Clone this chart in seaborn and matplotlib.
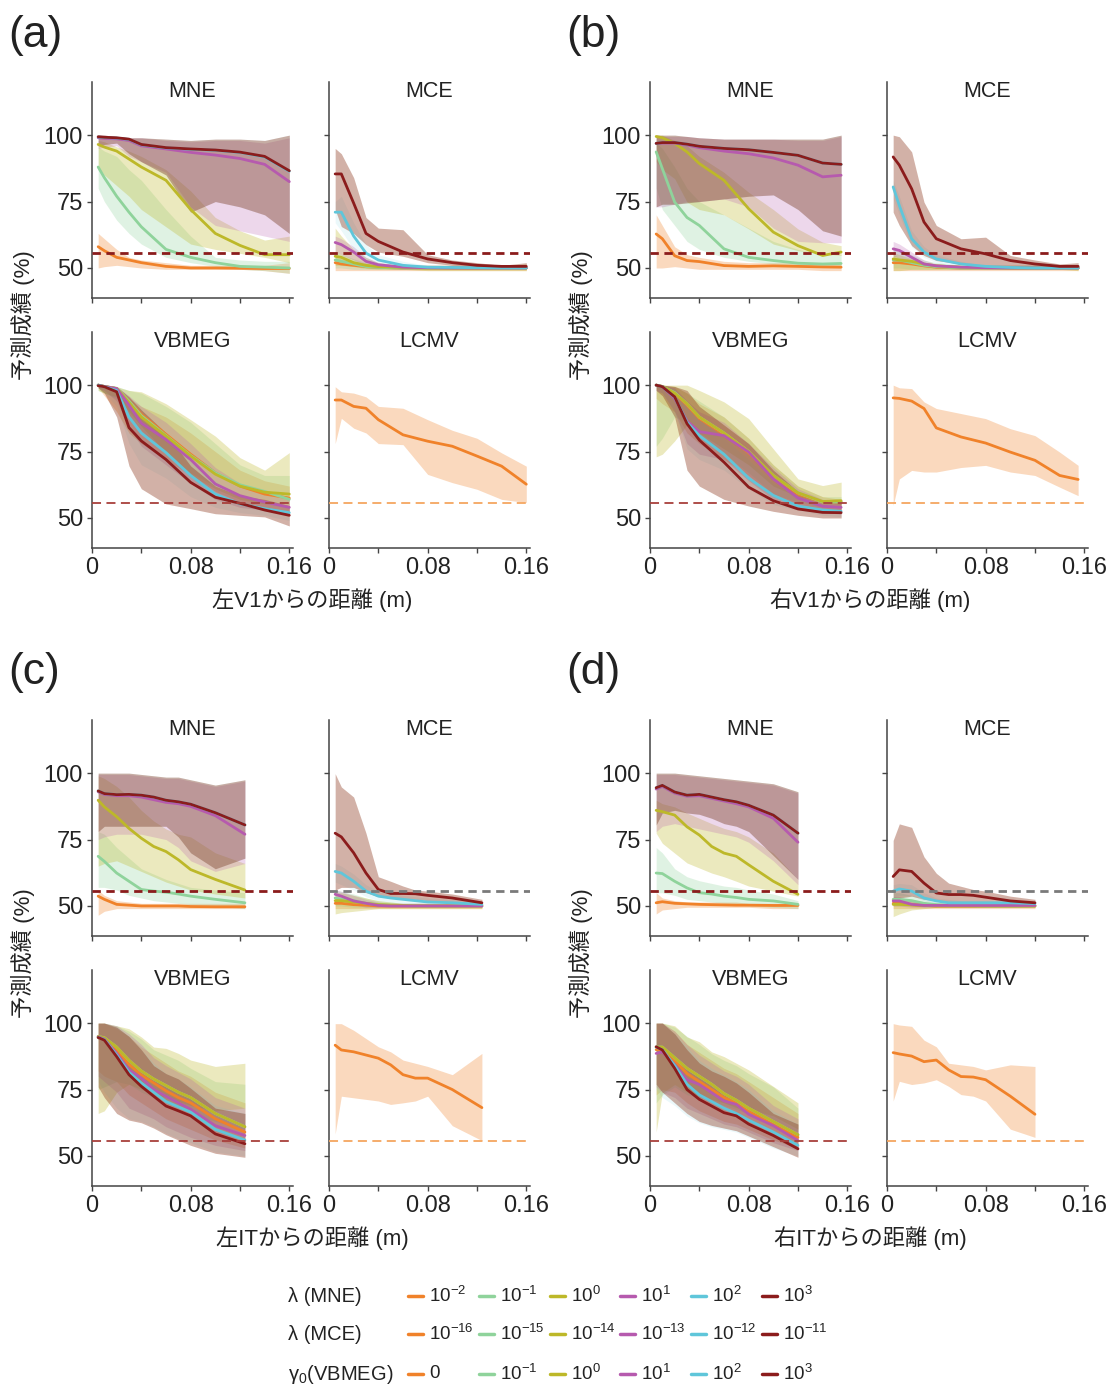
import numpy as np
import pandas as pd
import matplotlib
matplotlib.use("Agg")
import matplotlib.pyplot as plt
import seaborn as sns
from matplotlib.lines import Line2D

sns.set_theme(style="ticks")
plt.rcParams["font.family"] = ["Liberation Sans", "Noto Sans CJK JP"]
plt.rcParams["mathtext.fontset"] = "custom"
plt.rcParams["mathtext.rm"] = "Liberation Sans"
plt.rcParams["mathtext.it"] = "Liberation Sans:italic"
plt.rcParams["mathtext.bf"] = "Liberation Sans:bold"

# ---------------- data ----------------
# series order: 10^-2/-16/0 (orange), green, olive, purple, cyan, darkred
COLORS = ["#F0822A", "#8FD39B", "#BDB829", "#B65AAE", "#5FC6DA", "#8B1C1C"]
FILL_COLORS = ["#F0822A", "#8FD39B", "#BDB829", "#B65AAE", "#5FC6DA", "#8B3418"]
FILL_ALPHAS = [0.30, 0.28, 0.30, 0.24, 0.12, 0.38]
LCMV_COLOR = "#F0822A"
CHANCE = 55.5

XA = [0.005, 0.01, 0.02, 0.03, 0.04, 0.06, 0.08, 0.10, 0.12, 0.14, 0.16]
XB = [0.005, 0.01, 0.02, 0.03, 0.04, 0.06, 0.08, 0.10, 0.12, 0.14, 0.155]
XC = [0.005, 0.01, 0.02, 0.03, 0.04, 0.05, 0.06, 0.07, 0.08, 0.10, 0.124]
XD = [0.005, 0.01, 0.02, 0.03, 0.04, 0.05, 0.06, 0.07, 0.08, 0.10, 0.12]

# ---- panel (a): left V1 ----
A_MNE_MEAN = [
    [58, 56.5, 54, 53, 52, 50.6, 50, 50, 49.9, 49.8, 49.8],
    [88, 84, 77, 71, 65.5, 57, 54, 52, 50.6, 50.3, 50],
    [96.5, 95.5, 94, 91, 88, 83, 72, 63, 58.5, 55, 55],
    [99, 98.8, 98.6, 98, 96, 94.8, 93.5, 92.5, 91.2, 89, 82.5],
    [99.3, 99.1, 98.9, 98.4, 96.4, 95.2, 94.7, 94.3, 93.5, 91.8, 86.4],
    [99.4, 99.2, 99, 98.5, 96.5, 95.3, 94.8, 94.4, 93.6, 92, 86.6]]
A_MNE_LO = [
    [50, 50.5, 51, 50.5, 50, 49.5, 49.5, 49.5, 49.5, 49, 48],
    [80, 75, 68, 63, 59, 54, 52, 50.6, 49.5, 49, 48],
    [88, 85, 81, 77, 72, 65.5, 59, 57, 55.5, 54, 52],
    [95, 95.5, 96, 92, 90, 86, 73, 66, 64, 62, 60],
    [96, 96.5, 97, 93, 90, 85, 71, 75, 73, 70, 63],
    [96, 96.5, 97, 93, 90, 85, 71, 75, 73, 70, 63]]
A_MNE_HI = [
    [63, 61, 57, 54, 53, 52, 51, 51, 51, 51, 52],
    [95.6, 94, 92, 87, 83, 72, 62, 54, 53, 52.5, 52.5],
    [98, 97.5, 95.6, 94, 92, 87, 79, 69, 64, 60.5, 62],
    [100, 100, 99.5, 99, 99, 98, 97.5, 98, 98, 97, 99],
    [100, 100, 99.5, 99, 99, 98.5, 98, 98.5, 98.5, 98, 100],
    [100, 100, 99.5, 99, 99, 98.5, 98, 98.5, 98.5, 98, 100]]

A_MCE_MEAN = [
    [52, 51.5, 51, 50.5, 50.2, 50, 50, 50, 50, 50, 50],
    [53, 52.5, 51.5, 50.5, 50.2, 50, 50, 50, 50, 50, 50],
    [54.4, 54, 52, 51, 50.5, 50.2, 50, 50, 50, 50, 50],
    [59.6, 58.8, 56, 52.5, 51.2, 50.3, 50.1, 50, 50, 50, 50],
    [71, 71, 62, 55.6, 53, 51, 50.3, 50.2, 50.1, 50, 50],
    [85.4, 85.4, 74.4, 63, 60, 56, 53.4, 52, 51, 50.6, 50.6]]
A_MCE_LO = [
    [49, 49, 49, 49, 49, 49, 49, 49, 49, 49, 49],
    [50, 50, 49.5, 49.5, 49.5, 49.5, 49.5, 49.5, 49.5, 49.5, 49.5],
    [51, 51, 50.5, 49.8, 49.5, 49.5, 49, 49, 49, 49, 49],
    [56, 55, 53, 51, 50, 49.5, 49.5, 49.5, 49.5, 49.5, 49.5],
    [67, 64, 57, 53, 52, 50.2, 49.8, 49.8, 49.8, 49.8, 49.8],
    [72, 65.6, 63, 58.8, 56, 54.4, 52, 51, 50.6, 50, 50]]
A_MCE_HI = [
    [54, 53.5, 52.5, 51.5, 51, 51, 51, 51, 51, 51, 51],
    [56, 55, 53.5, 52, 51.2, 51, 51, 51, 51, 51, 51],
    [65, 62, 57, 54, 52, 51, 51, 51, 51, 51, 51.5],
    [62, 61, 58, 54, 52, 51, 51, 51, 51, 51, 51],
    [75, 77, 67, 58.8, 55, 52.5, 51, 51, 51, 51, 51],
    [95, 93, 84, 69, 65, 64.4, 55, 53, 52, 51, 52]]

A_VB_MEAN = [
    [100, 99.5, 98.7, 94, 89, 81.5, 74, 67, 62, 59, 57.5],
    [100, 99.5, 98.8, 94, 88.5, 81, 73.5, 67, 62.5, 60, 57],
    [100, 99.5, 98.7, 93.5, 88, 80.8, 73.3, 66.5, 62, 59.7, 59],
    [100, 99.5, 98.7, 92.5, 85.7, 79.5, 72, 62.8, 58.4, 56, 54],
    [100, 99.4, 98, 88, 82, 74.6, 66, 59, 55.3, 53.5, 52],
    [99.8, 99.4, 97.5, 84, 79, 72, 63.4, 57.8, 55.5, 53, 51]]
A_VB_LO = [
    [99, 96, 90, 82, 78, 72, 66, 60, 56, 54, 52],
    [98, 97, 95, 88, 83, 74, 67, 62, 58, 56, 55],
    [98, 97, 95.6, 90, 84.5, 74.6, 66, 61, 57, 55.3, 54.7],
    [99, 98, 94, 84, 77, 70, 63, 57, 54, 53, 51],
    [99, 97, 92, 78, 70, 65, 58, 54, 52, 51, 49],
    [99, 97, 88, 69.6, 61, 55.3, 53.5, 51.6, 51, 50.4, 47]]
A_VB_HI = [
    [100, 100, 99, 95, 92, 88, 82, 75, 68, 64, 62],
    [100, 100, 99.5, 98, 97, 92, 86, 78, 70, 66, 66],
    [100, 100, 99.4, 98, 97.5, 93, 87, 80.8, 72.7, 68, 74.6],
    [100, 100, 99.5, 96, 92, 86, 78, 69, 63, 60, 58],
    [100, 100, 99, 94, 88, 80, 72, 64, 58, 56, 54],
    [100, 100, 99.4, 95.6, 90.7, 82, 69.6, 62, 58.4, 57, 54.7]]

A_LC_MEAN = [94.4, 94.4, 92, 91.3, 87, 81.3, 78.9, 77, 73.3, 69.5, 62.7]
A_LC_LO = [78, 87.5, 83.8, 82, 78, 77.6, 66.4, 63.3, 60.8, 57, 55.8]
A_LC_HI = [99.4, 97.5, 97, 95.6, 92, 91.3, 87, 83, 80, 74.5, 69.5]

# ---- panel (b): right V1 ----
B_MNE_MEAN = [
    [62.8, 61, 54.6, 52.8, 52.4, 50.9, 50.6, 50.8, 50.6, 50.4, 50.3],
    [93.7, 87.4, 74.8, 69, 66, 57.2, 54, 52.8, 51.8, 51.5, 51.7],
    [99.5, 99, 96.9, 93.7, 89.3, 83, 72.3, 63.5, 58.4, 54.7, 56],
    [96.9, 97, 97, 96.3, 95.3, 94, 93, 91.4, 88.7, 84.3, 84.9],
    [96.9, 97.2, 97.2, 96.6, 95.8, 95, 94.5, 93.5, 92.4, 89.5, 89],
    [96.9, 97.2, 97.2, 96.6, 95.8, 95, 94.5, 93.5, 92.4, 89.5, 89]]
B_MNE_LO = [
    [50, 50, 50.5, 50, 49.5, 49.5, 49.5, 49.5, 49.5, 49, 49],
    [80, 72, 66, 60, 57, 54, 52.5, 51.5, 51, 50.5, 50.5],
    [90, 87, 83.6, 74.8, 72, 70, 64.7, 59, 56.5, 55.3, 54.7],
    [73, 73, 74, 75, 75, 76, 73, 65, 60, 59.5, 59.5],
    [73, 74, 74, 74.5, 75, 76, 77, 77.5, 72, 64, 62],
    [73, 74, 74, 74.5, 75, 76, 77, 77.5, 72, 64, 62]]
B_MNE_HI = [
    [70, 66, 58, 55, 54, 52.5, 52, 52, 52, 52, 52],
    [97, 95, 88, 80, 75, 70, 65, 60, 57, 55, 55],
    [100, 100, 98, 96, 92, 86, 78.5, 72, 64.7, 59.7, 58.4],
    [99.5, 99.5, 99.5, 99.5, 99, 98.5, 98.5, 98.5, 98, 98, 99.5],
    [100, 100, 100, 99.5, 99, 98.5, 98.5, 98.5, 98.5, 98.5, 100],
    [100, 100, 100, 99.5, 99, 98.5, 98.5, 98.5, 98.5, 98.5, 100]]

B_MCE_MEAN = [
    [52, 52, 51.5, 50.8, 50.3, 50, 50, 50, 50, 50, 50],
    [53, 53, 52, 51, 50.5, 50, 50, 50, 50, 50, 50],
    [53.4, 53, 52.5, 51.5, 50.8, 50.3, 50.2, 50, 50, 50, 50],
    [57.2, 56.6, 54, 51.5, 50.8, 50.3, 50.1, 50, 50, 50, 50],
    [80.5, 73.5, 61, 56, 53.4, 51.5, 50.6, 50.2, 50, 50, 50],
    [91.8, 88.7, 79.8, 67.3, 61, 57.2, 55.3, 52.8, 51.5, 50.6, 50.6]]
B_MCE_LO = [
    [49, 49, 49, 49, 49, 49, 49, 49, 49, 49, 49],
    [50, 50, 49.5, 49.5, 49.5, 49.5, 49.5, 49.5, 49.5, 49.5, 49.5],
    [49, 49, 49.5, 49.5, 49.5, 49.5, 49.5, 49.5, 49.5, 49.5, 49],
    [54.5, 54, 52, 50.5, 50, 49.5, 49.5, 49.5, 49.5, 49.5, 49.5],
    [76, 70, 58, 54, 52, 50.5, 49.5, 49.5, 49.5, 49.5, 49.5],
    [71, 66, 58.4, 54.7, 52.8, 51.5, 51, 50.6, 50, 50, 50]]
B_MCE_HI = [
    [55, 54, 53, 52, 51.5, 51, 51, 51, 51, 51, 51],
    [58, 57, 55, 53, 52, 51, 51, 51, 51, 51, 51],
    [56, 55, 53.5, 52, 51, 51, 51, 51, 51, 51, 51],
    [60, 59, 56, 53, 51.5, 51, 51, 51, 51, 51, 51],
    [83, 77, 64, 58, 55, 52.5, 51, 51, 51, 51, 51],
    [100, 99.4, 93.7, 74.8, 66, 61, 61.6, 54.7, 53, 51.5, 52]]

B_VB_MEAN = [
    [100, 99.5, 97, 92.5, 87.5, 81.5, 74.5, 65.5, 59, 56, 56],
    [100, 99.5, 97.2, 93, 88, 82, 75, 66, 59.5, 56, 56],
    [100, 99.5, 97, 93, 88, 82, 75, 66, 59.5, 56.2, 56.5],
    [100, 99.4, 95, 86.5, 82.5, 81, 74.8, 64.7, 57.5, 54.4, 54],
    [100, 99.4, 95.5, 86, 81, 74, 65, 58.5, 54.5, 53, 52.5],
    [100, 99.4, 95.6, 85.5, 79.3, 71, 61.6, 56.5, 53.4, 52.1, 52]]
B_VB_LO = [
    [95, 93, 90, 82, 78, 72, 66, 58, 55, 53, 52],
    [77, 80, 88, 86, 80, 74, 67, 59, 56, 54, 54],
    [73, 74, 79, 85, 82, 76, 70, 62, 58, 56, 55],
    [98, 97, 90, 78, 74, 72, 64, 57, 54, 52, 51.5],
    [98, 97, 90, 76, 72, 68, 61, 55, 53, 51, 50.5],
    [98, 96, 88, 68, 62, 57, 54.5, 52.5, 51, 50, 50]]
B_VB_HI = [
    [100, 100, 99.5, 97, 93, 88, 80, 70, 62, 58, 57],
    [100, 100, 99.5, 97, 94, 88, 80, 70, 62, 58, 58],
    [100, 100, 100, 100, 98, 93.7, 87.4, 76, 64.7, 62.2, 63.5],
    [100, 100, 99, 94, 90, 86, 78, 69, 61, 57, 56.5],
    [100, 100, 99, 92, 87, 80, 72, 63, 58, 55, 54],
    [100, 100, 99.5, 98, 92, 85, 78, 68, 60, 56.5, 56]]

B_LC_MEAN = [95.2, 95, 94, 91.2, 83.9, 80.5, 78.2, 74.8, 71.7, 66, 64.5]
B_LC_LO = [54.7, 64.7, 67.9, 67.3, 67.3, 69, 69.8, 67.3, 66, 61.6, 58.4]
B_LC_HI = [100, 99, 98.7, 93.7, 91.2, 89.3, 87.4, 83.6, 81, 74.8, 69.8]

# ---- panel (c): left IT ----
C_MNE_MEAN = [
    [53.7, 52.5, 50.6, 50.3, 50, 50, 50, 50, 49.8, 49.7, 49.7],
    [68.7, 66.8, 62.4, 59.3, 56.2, 55.6, 55.2, 54.5, 53.7, 52.5, 51.2],
    [89.8, 87.3, 83.6, 79.2, 75.5, 72.4, 70.5, 67.4, 63.7, 60, 56],
    [93, 92, 91.5, 91.5, 91, 90, 89, 88.5, 87.5, 84, 77],
    [93.3, 92.3, 91.9, 92, 91.7, 91, 89.8, 89.2, 88.3, 85.1, 80.5],
    [93.3, 92.3, 91.9, 92, 91.7, 91, 89.8, 89.2, 88.3, 85.1, 80.5]]
C_MNE_LO = [
    [46.5, 48, 49, 49, 49, 49, 49, 49, 49, 49, 49],
    [57, 57, 56, 54, 53, 52, 51.5, 51, 50.5, 50, 49],
    [65, 66, 67, 65, 63, 61, 59, 57.5, 56, 54.5, 53],
    [75, 76, 77, 77, 77, 76, 75, 72, 67, 63, 66],
    [78, 80, 80, 80, 80, 80, 80, 76, 70, 64, 68],
    [78, 80, 80, 80, 80, 80, 80, 76, 70, 64, 68]]
C_MNE_HI = [
    [56, 54, 52, 51.5, 51, 51, 51, 51, 51, 51, 51],
    [78, 77, 72, 68, 64, 62, 60, 58.5, 57, 56, 55],
    [99, 98, 95, 91, 86, 82, 79, 77, 76, 70, 66],
    [99.5, 99.5, 99.5, 99.5, 99, 98.5, 98, 98, 97, 95, 97],
    [100, 100, 100, 100, 99.5, 99, 98.5, 98.5, 97.5, 95.5, 97.5],
    [100, 100, 100, 100, 99.5, 99, 98.5, 98.5, 97.5, 95.5, 97.5]]

C_MCE_MEAN = [
    [51, 51, 50.5, 50.3, 50, 50, 50, 50, 50, 50, 50],
    [53, 52.5, 52, 51, 50.5, 50.3, 50.2, 50, 50, 50, 50],
    [52, 52, 51.5, 51, 50.5, 50.3, 50.2, 50, 50, 50, 50],
    [54.4, 53.7, 51.9, 51, 50.2, 50, 50, 50, 50, 50, 50],
    [63, 62.4, 59.3, 55.6, 53.7, 53, 52.5, 52, 51.5, 51.2, 50.6],
    [77.4, 76, 70, 62.4, 56.2, 54.7, 54.7, 54.6, 54, 53, 51.2]]
C_MCE_LO = [
    [49, 49, 49, 49, 49, 49, 49, 49, 49, 49, 49],
    [50, 50, 49.5, 49.5, 49.5, 49.5, 49.5, 49.5, 49.5, 49.5, 49.5],
    [47, 47.5, 48, 48.5, 49, 49, 49, 49, 49, 49, 49],
    [52, 52, 50.5, 49.5, 49.5, 49.5, 49.5, 49.5, 49.5, 49.5, 49.5],
    [59, 58, 56, 53.5, 52, 51.5, 51, 50.5, 50, 50, 49.5],
    [56, 57, 57, 55, 53.5, 53, 52.5, 52.5, 52, 51.5, 50.5]]
C_MCE_HI = [
    [53, 53, 52, 51.5, 51, 51, 51, 51, 51, 51, 51],
    [56, 55.5, 54.5, 53, 52, 51.5, 51, 51, 51, 51, 51],
    [55, 55, 54, 53, 52, 51.5, 51, 51, 51, 51, 51],
    [56, 55.5, 54, 52.5, 51.5, 51, 51, 51, 51, 51, 51],
    [66, 65, 62, 58, 55.5, 54.5, 54, 53.5, 53, 52.5, 51.5],
    [99.8, 94.8, 91, 77.4, 61, 59.3, 57.5, 56, 55.6, 54.5, 52.5]]

C_VB_MEAN = [
    [94.5, 94, 90, 84.5, 80.5, 77.5, 74.5, 72, 70, 64, 59],
    [95, 94.5, 91, 86, 82, 79, 76.5, 74, 72, 66, 61],
    [95, 94.5, 91, 86, 82, 79, 76.5, 74, 72, 66, 61],
    [94.8, 94, 88.6, 82.4, 79.3, 75, 72.5, 70, 67.6, 61.4, 57.7],
    [94.6, 93.8, 88, 81.5, 77.5, 74, 70.5, 68.5, 66.5, 60, 56],
    [94.6, 93.6, 87.4, 80.6, 76.2, 72.5, 68.8, 67, 65.1, 58.3, 54.6]]
C_VB_LO = [
    [82, 80, 78, 73, 70, 67, 64, 62, 60, 56, 53],
    [75, 76, 78, 77, 74, 72, 70, 68, 66, 63, 60],
    [66, 67, 74, 77, 75, 73.5, 72, 70.5, 69, 67, 68],
    [80, 78, 74, 68, 66, 64, 61, 59, 57, 54, 52],
    [78, 74, 68, 64, 63, 61, 58.5, 56.5, 55, 51.5, 50],
    [76, 72, 66, 63.5, 62.5, 60.5, 58, 56, 54, 51, 49.5]]
C_VB_HI = [
    [100, 100, 98, 95, 91, 88, 85, 82, 80, 74, 70],
    [100, 100, 99, 97, 94, 90, 88, 86, 83, 78, 77],
    [100, 100, 99, 97.9, 94.8, 91, 90.5, 88.6, 86.1, 83.7, 84.9],
    [100, 100, 99, 96, 92, 87, 84, 81.5, 79, 72, 68],
    [100, 100, 98.5, 95, 90, 85, 81, 79, 76, 69, 66],
    [100, 100, 98.5, 95, 90, 84, 81, 79, 75.5, 68, 66]]

C_LC_MEAN = [91.7, 89.9, 89.2, 88, 86.8, 84.3, 80.6, 79.3, 79.3, 75, 68.2]
C_LC_LO = [58.3, 72.5, 71.9, 71.3, 70.7, 69.4, 70, 70.7, 72.5, 61.4, 55.8]
C_LC_HI = [99.8, 99.8, 97.3, 94.2, 91.1, 89.2, 86.1, 84.9, 83.7, 80.6, 88.6]

# ---- panel (d): right IT ----
D_MNE_MEAN = [
    [51.2, 51.6, 51, 50.8, 50.6, 50.5, 50.4, 50.3, 50.3, 50.2, 50.2],
    [62.4, 62.2, 59.3, 56.8, 55, 54.5, 53.7, 53.2, 52.5, 51.9, 50.6],
    [86, 85.5, 84.2, 79.8, 76.7, 72.4, 69.9, 68.7, 65.5, 59.3, 54.4],
    [94, 95, 92.5, 91.3, 91.5, 90.5, 89.5, 88.5, 87.3, 83, 74],
    [94.5, 95.4, 92.9, 91.7, 92, 91, 90, 89.2, 87.9, 84.2, 77.4],
    [94.5, 95.4, 92.9, 91.7, 92, 91, 90, 89.2, 87.9, 84.2, 77.4]]
D_MNE_LO = [
    [47, 48.5, 49, 49.5, 49.5, 49.5, 49.5, 49.5, 49.5, 49, 49],
    [55, 55, 54, 52.5, 52, 51.5, 51, 50.5, 50, 49.5, 49],
    [77.4, 73.6, 69.9, 66.2, 64.3, 62.4, 61, 59.3, 57.5, 55.6, 53.7],
    [78, 80, 81, 80, 79, 78, 77, 76, 74, 67, 58],
    [80.5, 85, 86, 85, 84.5, 83, 81, 80, 78, 69, 60],
    [80.5, 85, 86, 85, 84.5, 83, 81, 80, 78, 69, 60]]
D_MNE_HI = [
    [55, 53, 52, 51.5, 51.5, 51.5, 51.5, 51.5, 51, 51, 51],
    [72, 70, 64, 61, 59.5, 58.5, 57.5, 57, 56, 54.5, 52],
    [89.8, 88.5, 87.3, 85, 83, 81, 79.2, 78, 76, 69.9, 60],
    [99.5, 99.5, 99.5, 99, 98.5, 98, 97.5, 97, 96.5, 95.5, 92.5],
    [100, 100, 100, 99.5, 99, 98.5, 98, 97.5, 97, 96, 93],
    [100, 100, 100, 99.5, 99, 98.5, 98, 97.5, 97, 96, 93]]

D_MCE_MEAN = [
    [51, 51, 50.5, 50.2, 50, 50, 50, 50, 50, 50, 50],
    [52.5, 52.5, 52, 51, 50.5, 50.3, 50.2, 50.1, 50, 50, 50],
    [50.6, 50.6, 50.4, 50.2, 50, 50, 50, 50, 50, 50, 50],
    [51.9, 51.9, 50.6, 50.2, 50.2, 50.2, 50.2, 50.2, 50.2, 50.2, 50.2],
    [55.6, 56.4, 55.6, 53, 51.9, 51.2, 51.2, 51.2, 51.2, 51.2, 50.9],
    [61.1, 63.6, 63, 58.6, 54.9, 54.3, 54.3, 54, 53.3, 51.9, 51.2]]
D_MCE_LO = [
    [49, 49, 49, 49, 49, 49, 49, 49, 49, 49, 49],
    [50, 50, 50, 49.5, 49.5, 49.5, 49.5, 49.5, 49.5, 49.5, 49.5],
    [46, 47, 48.5, 49, 49.5, 49.5, 49.5, 49.5, 49.5, 49.5, 49.5],
    [50, 50, 49.5, 49.5, 49.5, 49.5, 49.5, 49.5, 49.5, 49.5, 49.5],
    [53, 54, 54, 52, 50.5, 50.3, 50.3, 50.3, 50.3, 50, 50],
    [52.5, 53, 53.7, 52.5, 51.9, 51.5, 51.2, 51, 51, 51, 50.5]]
D_MCE_HI = [
    [53, 53, 52, 51.5, 51, 51, 51, 51, 51, 51, 51],
    [55, 55, 54, 52.5, 51.5, 51, 51, 51, 51, 51, 51],
    [53, 52.5, 52, 51, 51, 51, 51, 51, 51, 51, 51],
    [53.5, 53.5, 52, 51, 51, 51, 51, 51, 51, 51, 51],
    [58, 58.5, 58, 55, 53, 52.5, 52, 52, 52, 51.5, 51.5],
    [74.7, 80.9, 79.6, 68.5, 62.3, 58.6, 57.4, 56.2, 55.6, 53.7, 52.5]]

D_VB_MEAN = [
    [90, 90, 86, 81, 78, 75, 72, 70, 67, 62, 57],
    [91, 91, 87, 83, 80, 77, 73.5, 71, 68, 63, 58],
    [91, 91, 87, 83, 80, 77, 73.5, 71, 68, 63, 58],
    [88.6, 89.2, 84.3, 78.7, 76.9, 73.8, 70.7, 69.4, 65.7, 61.4, 55.8],
    [91, 90, 84, 77, 73, 70.5, 68, 66, 63.5, 59, 54],
    [91.1, 89.9, 83, 75, 71.3, 68.8, 66.3, 65.1, 62, 57.7, 52.7]]
D_VB_LO = [
    [73, 75, 74, 70, 67, 65, 63, 62, 60, 56, 53],
    [70, 73, 76, 73, 72, 70.5, 69, 67.5, 66, 63, 59],
    [59, 73.8, 76.9, 74, 72.5, 71.3, 70, 68.2, 67.6, 65.1, 60.1],
    [76, 74, 72, 68, 66, 64, 62, 61, 59, 55, 52],
    [75, 72, 69, 65, 62.5, 61, 60, 59, 57, 53, 50],
    [77, 74, 70, 66, 63, 61.5, 60.5, 59.5, 57.5, 53.5, 49.5]]
D_VB_HI = [
    [100, 100, 97, 92, 89, 86, 83, 81, 78, 72, 66],
    [100, 100, 98.5, 95, 92, 88.5, 86, 84, 81, 76, 68],
    [100, 100, 99, 94.8, 93, 89.2, 87.4, 84.9, 82.4, 76.2, 70],
    [100, 100, 97, 92, 88, 85, 82, 80, 77, 69, 64],
    [100, 100, 96, 91, 86, 83, 80.5, 78, 75, 67, 62],
    [100, 100, 96, 90, 85, 82, 80, 77.5, 74, 66, 62]]

D_LC_MEAN = [88.9, 88.4, 87.6, 85.5, 86.1, 82.4, 79.9, 79.7, 78.7, 72.5, 65.7]
D_LC_LO = [70.7, 78.1, 76.9, 77.5, 78.7, 76.2, 73.1, 72.5, 70.7, 60.1, 57]
D_LC_HI = [99.8, 99.3, 98.8, 93.6, 91.1, 84.9, 84.3, 83.7, 82.4, 84.3, 83.7]

PANEL_LABELS = ["(a)", "(b)", "(c)", "(d)"]
XLABELS = ["左V1からの距離 (m)", "右V1からの距離 (m)", "左ITからの距離 (m)", "右ITからの距離 (m)"]
YLABEL = "予測成績 (%)"
METHODS = ["MNE", "MCE", "VBMEG", "LCMV"]
MCE_CHANCE_COLORS = ["#8B1C1C", "#8B1C1C", "#7a7a7a", "#7a7a7a"]

LEG_ROWS = ["λ (MNE)", "λ (MCE)", "γ$_0$(VBMEG)"]
LEG_MNE = ["10$^{-2}$", "10$^{-1}$", "10$^{0}$", "10$^{1}$", "10$^{2}$", "10$^{3}$"]
LEG_MCE = ["10$^{-16}$", "10$^{-15}$", "10$^{-14}$", "10$^{-13}$", "10$^{-12}$", "10$^{-11}$"]
LEG_VB = ["0", "10$^{-1}$", "10$^{0}$", "10$^{1}$", "10$^{2}$", "10$^{3}$"]

# ---------------- figure ----------------
W, H = 1115, 1392
fig = plt.figure(figsize=(W / 100, H / 100), dpi=100)
TXT = "#222222"
SPINE = "#444444"


def fx(px):
    return px / W


def fy(py):
    return 1 - py / H


def make_ax(left, top, width=201, height=216):
    return fig.add_axes([fx(left), fy(top + height), width / W, height / H])


def style(ax, show_y, show_x):
    ax.set_xlim(0, 0.163)
    ax.set_ylim(38.7, 120)
    ax.set_xticks([0, 0.04, 0.08, 0.12, 0.16])
    ax.set_yticks([50, 75, 100])
    ax.set_xticklabels(["0", "", "0.08", "", "0.16"] if show_x else [""] * 5)
    ax.set_yticklabels(["50", "75", "100"] if show_y else [""] * 3)
    ax.tick_params(axis="both", length=3.5, width=1, colors=SPINE,
                   labelcolor=TXT, labelsize=17, pad=3)
    for s in ["left", "bottom"]:
        ax.spines[s].set_color(SPINE)
        ax.spines[s].set_linewidth(1.1)
    sns.despine(ax=ax)
    ax.set_xlabel("")
    ax.set_ylabel("")


def draw_series(ax, x, means, los, his):
    for m, lo, hi, c, fc, fa in zip(means, los, his, COLORS, FILL_COLORS, FILL_ALPHAS):
        ax.fill_between(x, lo, hi, color=fc, alpha=fa, lw=0)
        sns.lineplot(x=x, y=m, ax=ax, color=c, lw=2.0, legend=False)


panels = [
    (XA, (A_MNE_MEAN, A_MNE_LO, A_MNE_HI), (A_MCE_MEAN, A_MCE_LO, A_MCE_HI),
     (A_VB_MEAN, A_VB_LO, A_VB_HI), (A_LC_MEAN, A_LC_LO, A_LC_HI)),
    (XB, (B_MNE_MEAN, B_MNE_LO, B_MNE_HI), (B_MCE_MEAN, B_MCE_LO, B_MCE_HI),
     (B_VB_MEAN, B_VB_LO, B_VB_HI), (B_LC_MEAN, B_LC_LO, B_LC_HI)),
    (XC, (C_MNE_MEAN, C_MNE_LO, C_MNE_HI), (C_MCE_MEAN, C_MCE_LO, C_MCE_HI),
     (C_VB_MEAN, C_VB_LO, C_VB_HI), (C_LC_MEAN, C_LC_LO, C_LC_HI)),
    (XD, (D_MNE_MEAN, D_MNE_LO, D_MNE_HI), (D_MCE_MEAN, D_MCE_LO, D_MCE_HI),
     (D_VB_MEAN, D_VB_LO, D_VB_HI), (D_LC_MEAN, D_LC_LO, D_LC_HI)),
]
offsets = [(0, 0), (558, 0), (0, 638), (558, 638)]

for p, (x, mne, mce, vb, lc) in enumerate(panels):
    ox, oy = offsets[p]
    ax_mne = make_ax(92 + ox, 82 + oy)
    ax_mce = make_ax(329 + ox, 82 + oy)
    ax_vb = make_ax(92 + ox, 332 + oy)
    ax_lc = make_ax(329 + ox, 332 + oy)

    draw_series(ax_mne, x, *mne)
    ax_mne.axhline(CHANCE, color="#8B1C1C", lw=2.0, ls=(0, (3, 2)), zorder=5)
    draw_series(ax_mce, x, *mce)
    ax_mce.axhline(CHANCE, color=MCE_CHANCE_COLORS[p], lw=2.0, ls=(0, (3, 2)), zorder=5)
    draw_series(ax_vb, x, *vb)
    ax_vb.axhline(CHANCE, color="#A8403C", lw=1.3, ls=(0, (5, 3)), zorder=5)
    ax_lc.fill_between(x, lc[1], lc[2], color=LCMV_COLOR, alpha=0.30, lw=0)
    sns.lineplot(x=x, y=lc[0], ax=ax_lc, color=LCMV_COLOR, lw=2.0, legend=False)
    ax_lc.axhline(CHANCE, color="#F5A660", lw=1.3, ls=(0, (5, 3)), zorder=5)

    for ax, name, sy, sx in [(ax_mne, "MNE", True, False), (ax_mce, "MCE", False, False),
                             (ax_vb, "VBMEG", True, True), (ax_lc, "LCMV", False, True)]:
        style(ax, sy, sx)
        ax.text(0.5, 0.955, name, transform=ax.transAxes, ha="center", va="center",
                fontsize=15.5, color=TXT)

    fig.text(fx(8 + ox), fy(35 + oy), PANEL_LABELS[p], fontsize=32, color=TXT,
             ha="left", va="center")
    fig.text(fx(312 + ox), fy(600 + oy), XLABELS[p], fontsize=16, color=TXT,
             ha="center", va="center")
    fig.text(fx(23 + ox), fy(315 + oy), YLABEL, fontsize=16, color=TXT,
             ha="center", va="center", rotation=90)

# ---------------- legend ----------------
leg_y = [1296, 1334, 1374]
leg_items = [LEG_MNE, LEG_MCE, LEG_VB]
for r in range(3):
    y = leg_y[r]
    fig.text(fx(288), fy(y), LEG_ROWS[r], fontsize=14.5, color=TXT, ha="left", va="center")
    for i in range(6):
        x0 = 408 + 70.8 * i
        fig.add_artist(Line2D([fx(x0), fx(x0 + 15)], [fy(y), fy(y)],
                              transform=fig.transFigure, color=COLORS[i], lw=2.5))
        fig.text(fx(x0 + 21), fy(y), leg_items[r][i], fontsize=13.5, color=TXT,
                 ha="left", va="center")

fig.savefig("out.png", dpi=100)
